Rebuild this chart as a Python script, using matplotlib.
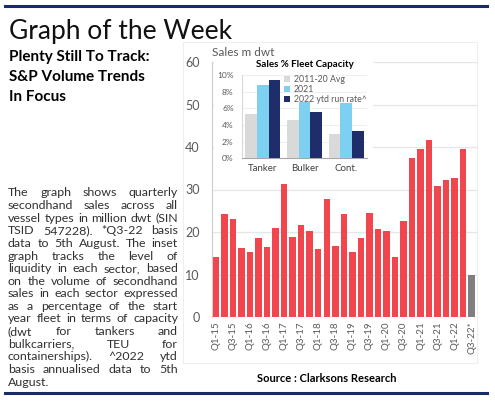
import matplotlib
matplotlib.use('Agg')
import matplotlib.pyplot as plt
from matplotlib.patches import Rectangle
from matplotlib.lines import Line2D

# ---------------- data ----------------
quarters = []
for yr in range(15, 23):
    for q in range(1, 5):
        quarters.append(f"Q{q}-{yr}")
quarters = quarters[:31]
quarters[-1] = "Q3-22*"

sales_m_dwt = [14.1, 24.3, 23.1, 16.3, 15.4, 18.7, 16.5, 20.9, 31.2, 18.8,
               21.7, 20.2, 16.1, 27.7, 16.8, 24.2, 15.2, 18.7, 24.4, 20.7,
               20.2, 14.2, 22.5, 37.3, 39.6, 41.7, 30.9, 32.2, 32.7, 39.5,
               10.0]

tick_labels = ['Q1-15', 'Q3-15', 'Q1-16', 'Q3-16', 'Q1-17', 'Q3-17', 'Q1-18',
               'Q3-18', 'Q1-19', 'Q3-19', 'Q1-20', 'Q3-20', 'Q1-21', 'Q3-21',
               'Q1-22', 'Q3-22*']

sectors = ['Tanker', 'Bulker', 'Cont.']
series_names = ['2011-20 Avg', '2021', '2022 ytd run rate^']
avg_2011_20 = [5.3, 4.6, 2.9]
pct_2021 = [8.8, 6.8, 6.6]
ytd_2022 = [9.4, 5.6, 3.3]

paragraph_lines = [
    "The graph shows quarterly",
    "secondhand sales across all",
    "vessel types in million dwt (SIN",
    "TSID 547228). *Q3-22 basis",
    "data to 5th August. The inset",
    "graph tracks the level of",
    "liquidity in each sector, based",
    "on the volume of secondhand",
    "sales in each sector expressed",
    "as a percentage of the start",
    "year fleet in terms of capacity",
    "(dwt for tankers and",
    "bulkcarriers, TEU for",
    "containerships). ^2022 ytd",
    "basis annualised data to 5th",
    "August.",
]

# ---------------- styling ----------------
FONT = 'Lato'
RED = '#F2464E'
GREY_BAR = '#7F7F7F'
C_AVG = '#D9D9D9'
C_2021 = '#7DD0F0'
C_2022 = '#1F2D6B'
NAVY = '#1B2A6B'
TXT = '#595959'

W, H = 495, 416
fig = plt.figure(figsize=(W / 100, H / 100), dpi=100)
fig.patch.set_facecolor('white')

def fx(px):
    return px / W

def fy(py):
    return 1 - py / H

# frame lines
fig.add_artist(Line2D([fx(5), fx(487)], [fy(6), fy(6)], color=NAVY, lw=2.2))
fig.add_artist(Line2D([fx(5), fx(487)], [fy(393), fy(393)], color=NAVY, lw=2.2))
# faint chart panel border
fig.add_artist(Rectangle((fx(183), fy(363)), fx(477) - fx(183), fy(42) - fy(363),
                         fill=False, edgecolor='#EEEEEE', lw=0.8))

# titles
fig.text(fx(9), fy(32), "Graph of the Week", fontsize=19, family=FONT,
         fontweight='normal', color='#111111', va='center', ha='left')
for k, s in enumerate(["Plenty Still To Track:", "S&P Volume Trends", "In Focus"]):
    fig.text(fx(9), fy(57 + 20 * k), s, fontsize=11, family=FONT,
             fontweight='bold', va='center', ha='left')

# ---------------- main axes ----------------
ax = fig.add_axes([fx(212), fy(317), fx(477) - fx(212), fy(62) - fy(317)])
x = list(range(len(sales_m_dwt)))
colors = [RED] * (len(sales_m_dwt) - 1) + [GREY_BAR]
ax.bar(x, sales_m_dwt, width=0.76, color=colors, zorder=3)
ax.set_ylim(0, 60)
ax.set_xlim(-0.47, 30.63)
ax.set_yticks(range(0, 61, 10))
ax.set_xticks(x[::2])
ax.set_xticklabels(tick_labels, rotation=90, fontsize=7, family=FONT, color=TXT)
for lbl in ax.get_yticklabels():
    lbl.set_fontsize(9)
    lbl.set_family(FONT)
    lbl.set_color(TXT)
ax.tick_params(axis='y', length=0, pad=9)
ax.tick_params(axis='x', length=0, pad=3)
ax.grid(axis='y', color='#E6E6E6', lw=0.9, zorder=0)
for s in ['top', 'right', 'bottom']:
    ax.spines[s].set_visible(False)
ax.spines['left'].set_color('#D0D0D0')
ax.spines['left'].set_linewidth(0.9)
ax.text(0.0, 1.015, "Sales m dwt", transform=ax.transAxes, fontsize=8.5,
        family=FONT, color=TXT, ha='left', va='bottom')

fig.text(fx(327), fy(379), "Source : Clarksons Research", fontsize=8,
         family=FONT, fontweight='bold', ha='center', va='center')

# ---------------- inset ----------------
fig.add_artist(Rectangle((fx(214), fy(182)), fx(373) - fx(214), fy(57) - fy(182),
                         facecolor='white', edgecolor='none', zorder=5))
ins = fig.add_axes([fx(242), fy(158.3), fx(367) - fx(242), fy(75) - fy(158.3)])
ins.set_zorder(6)
ins.patch.set_alpha(0)
bw = 0.28
gx = list(range(len(sectors)))
ins.bar([g - bw for g in gx], avg_2011_20, width=bw, color=C_AVG, label=series_names[0], zorder=3)
ins.bar(gx, pct_2021, width=bw, color=C_2021, label=series_names[1], zorder=3)
ins.bar([g + bw for g in gx], ytd_2022, width=bw, color=C_2022, label=series_names[2], zorder=3)
ins.set_ylim(0, 10)
ins.set_xlim(-0.5, 2.5)
ins.set_yticks(range(0, 11, 2))
ins.set_yticklabels([f"{v}%" for v in range(0, 11, 2)], fontsize=6, family=FONT, color=TXT)
ins.set_xticks(gx)
ins.set_xticklabels(sectors, fontsize=7, family=FONT, color='#404040')
ins.tick_params(axis='y', length=0, pad=6)
ins.tick_params(axis='x', length=0, pad=4)
ins.grid(axis='y', color='#EFEFEF', lw=0.7, zorder=0)
for s in ['top', 'right']:
    ins.spines[s].set_visible(False)
ins.spines['left'].set_color('#D9D9D9')
ins.spines['bottom'].set_color('#A6A6A6')
ins.text(0.5, 1.07, "Sales % Fleet Capacity", transform=ins.transAxes,
         fontsize=7, family=FONT, fontweight='bold', ha='center', va='bottom')
leg = ins.legend(loc='upper right', bbox_to_anchor=(1.04, 1.06), frameon=False,
                 fontsize=6.3, handlelength=0.7, handleheight=0.7,
                 handletextpad=0.4, labelspacing=0.12, borderpad=0.1)
for t in leg.get_texts():
    t.set_family(FONT)
    t.set_color(TXT)

# ---------------- justified paragraph ----------------
renderer = fig.canvas.get_renderer()
left_px, right_px = 8, 178
avail = right_px - left_px
y0, dy = 193, 12.6

def natural_width(line, size):
    t = fig.text(0, 0, line, fontsize=size, family=FONT)
    wd = t.get_window_extent(renderer).width
    t.remove()
    return wd

size = 9.5
while size > 6:
    if max(natural_width(l, size) for l in paragraph_lines[:-1]) <= avail:
        break
    size -= 0.1

for i, line in enumerate(paragraph_lines):
    ypos = fy(y0 + i * dy)
    words = line.split()
    last = (i == len(paragraph_lines) - 1)
    if last or len(words) == 1:
        fig.text(fx(left_px), ypos, line, fontsize=size, family=FONT,
                 color='#303030', ha='left', va='center')
        continue
    arts = []
    widths = []
    for w_ in words:
        t = fig.text(0, ypos, w_, fontsize=size, family=FONT, color='#303030',
                     ha='left', va='center')
        arts.append(t)
        widths.append(t.get_window_extent(renderer).width)
    gap = (avail - sum(widths)) / (len(words) - 1)
    cur = left_px
    for t, wd in zip(arts, widths):
        t.set_x(fx(cur))
        cur += wd + gap

fig.savefig('out.png', dpi=100, facecolor='white')
